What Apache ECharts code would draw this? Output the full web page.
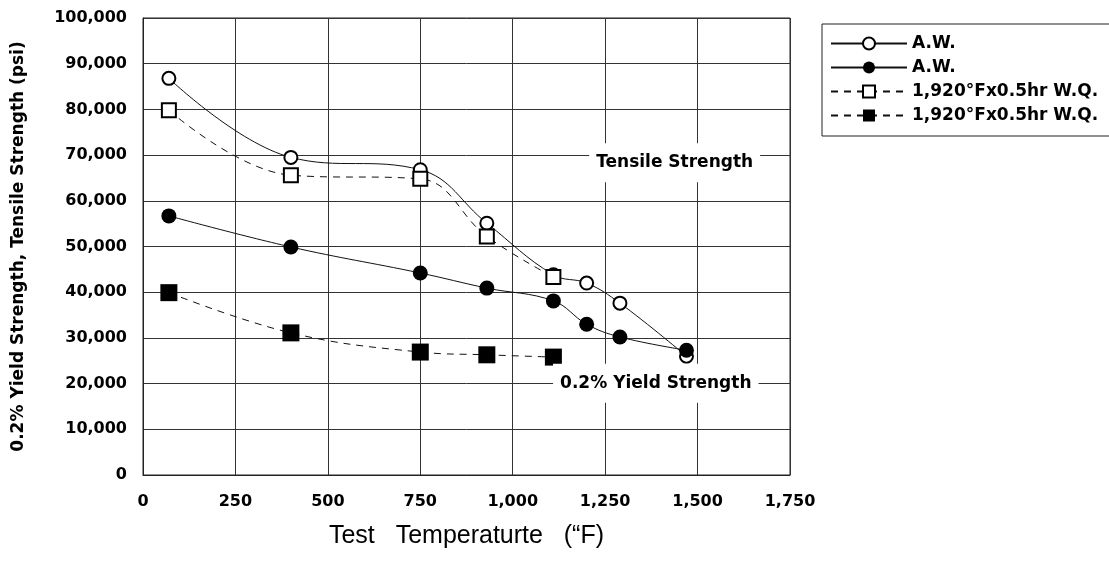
<!DOCTYPE html>
<html>
<head>
<meta charset="utf-8">
<title>Strength vs Test Temperature</title>
<script src="https://cdn.jsdelivr.net/npm/echarts@6/dist/echarts.min.js"></script>
<style>
  html, body { margin: 0; padding: 0; background: #fff; }
  #chart { width: 1109px; height: 565px; }
</style>
</head>
<body>
<div id="chart"></div>
<script>
// test temperatures (F)
const awTemps = [70, 400, 750, 930, 1110, 1200, 1290, 1470]
const wqTemps = [70, 400, 750, 930, 1110]

// as-welded
const awTensile = [86800, 69500, 66800, 55100, 43800, 42000, 37600, 26000]
const awYield = [56700, 49900, 44200, 40900, 38100, 33000, 30200, 27300]

// 1,920F x 0.5hr water quench
const wqTensile = [79800, 65600, 64800, 52200, 43300]
const wqYield = [39900, 31100, 26900, 26300, 25800]

const seriesNames = ['A.W.', 'A.W. ', '1,920°Fx0.5hr W.Q.', '1,920°Fx0.5hr W.Q. ']

// in-plot captions, anchored in data space [temp, strength]
const captions = [
  { text: 'Tensile Strength', at: [1438, 68300] },
  { text: '0.2% Yield Strength', at: [1387, 20100] }
]

const pair = (xs, ys) => xs.map((x, i) => [x, ys[i]])
const comma = v => v.toLocaleString('en-US')

const labelFont = 'DejaVu Sans'

const chart = echarts.init(document.getElementById('chart'))

function line(name, xs, ys, symbol, hollow, size, dashed) {
  return {
    name: name,
    type: 'line',
    data: pair(xs, ys),
    smooth: 0.4,
    symbol: symbol,
    symbolSize: size,
    showAllSymbol: true,
    lineStyle: { color: '#111', width: 1, type: dashed ? [7, 6] : 'solid' },
    itemStyle: {
      color: hollow ? '#fff' : '#000',
      borderColor: '#000',
      borderWidth: hollow ? 2 : 0
    },
    z: 3
  }
}

chart.setOption({
  animation: false,
  backgroundColor: '#fff',
  grid: {
    left: 143,
    right: 319,
    top: 18,
    bottom: 90,
    show: true,
    borderColor: '#222',
    borderWidth: 1
  },
  legend: {
    orient: 'vertical',
    left: 822,
    top: 24,
    padding: [11, 10, 12, 8],
    itemGap: 7,
    itemWidth: 76,
    itemHeight: 15,
    borderColor: '#222',
    borderWidth: 1,
    borderRadius: 0,
    data: seriesNames,
    textStyle: { fontFamily: labelFont, fontWeight: 'bold', fontSize: 17, color: '#000' }
  },
  xAxis: {
    type: 'value',
    min: 0,
    max: 1750,
    interval: 250,
    name: 'Test   Temperaturte   (“F)',
    nameLocation: 'middle',
    nameGap: 49,
    nameTextStyle: { fontFamily: 'Liberation Sans', fontSize: 25, color: '#000' },
    axisLine: { show: true, lineStyle: { color: '#222' } },
    axisTick: { show: false },
    axisLabel: {
      formatter: comma,
      margin: 19,
      fontFamily: labelFont,
      fontWeight: 'bold',
      fontSize: 16,
      color: '#000'
    },
    splitLine: { show: true, lineStyle: { color: '#333', width: 1 } }
  },
  yAxis: {
    type: 'value',
    min: 0,
    max: 100000,
    interval: 10000,
    name: '0.2% Yield Strength, Tensile Strength (psi)',
    nameLocation: 'middle',
    nameGap: 116,
    nameTextStyle: { fontFamily: labelFont, fontWeight: 'bold', fontSize: 17, color: '#000' },
    axisLine: { show: true, lineStyle: { color: '#222' } },
    axisTick: { show: false },
    axisLabel: {
      formatter: comma,
      margin: 16,
      fontFamily: labelFont,
      fontWeight: 'bold',
      fontSize: 16,
      color: '#000'
    },
    splitLine: { show: true, lineStyle: { color: '#333', width: 1 } }
  },
  series: [
    line(seriesNames[0], awTemps, awTensile, 'circle', true, 13, false),
    line(seriesNames[1], awTemps, awYield, 'circle', false, 15, false),
    line(seriesNames[2], wqTemps, wqTensile, 'rect', true, 14, true),
    line(seriesNames[3], wqTemps, wqYield, 'rect', false, 17, true)
  ]
})

// captions sit on white boxes that blank out the grid behind them
chart.setOption({
  graphic: captions.map(c => {
    const p = chart.convertToPixel({ gridIndex: 0 }, c.at)
    return {
      type: 'text',
      x: p[0],
      y: p[1],
      z: 10,
      style: {
        text: c.text,
        fill: '#000',
        font: 'bold 17px "DejaVu Sans"',
        align: 'center',
        verticalAlign: 'middle',
        backgroundColor: '#fff',
        padding: [11, 7]
      }
    }
  })
})
</script>
</body>
</html>
